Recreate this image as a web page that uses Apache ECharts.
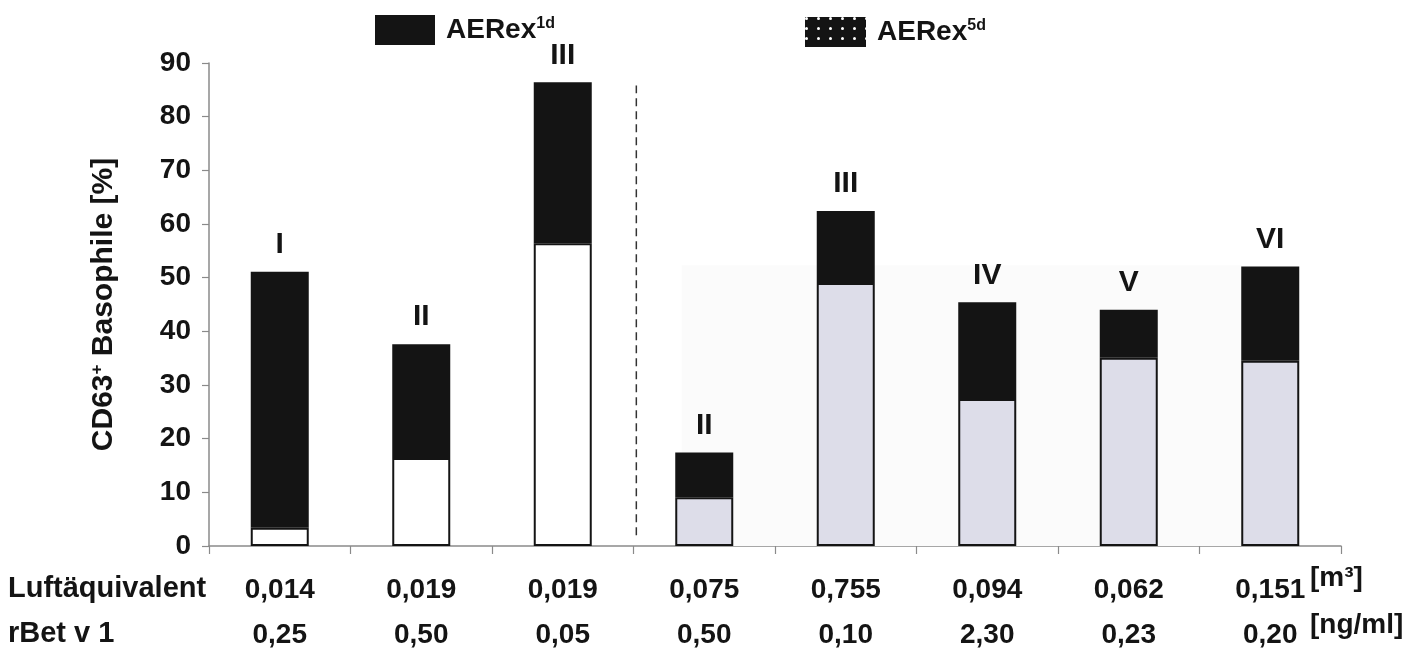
<!DOCTYPE html>
<html>
<head>
<meta charset="utf-8">
<script src="https://cdn.jsdelivr.net/npm/echarts@6/dist/echarts.min.js"></script>
<style>html,body{margin:0;padding:0;background:#fff}#c{width:1422px;height:651px}</style>
</head>
<body>
<div id="c"></div>
<script>
// ---- data ----
const luftaequivalent = ['0,014','0,019','0,019','0,075','0,755','0,094','0,062','0,151'];
const rBetV1 = ['0,25','0,50','0,05','0,50','0,10','2,30','0,23','0,20'];
const groups = ['1d','1d','1d','5d','5d','5d','5d','5d'];
const romans = ['I','II','III','II','III','IV','V','VI'];
const baseValues = [3.4, 16.4, 56.4, 9.1, 49.0, 27.4, 35.1, 34.5];
const totalValues = [51.1, 37.6, 86.4, 17.4, 62.4, 45.4, 44.0, 52.1];
const yTicks = {min: 0, max: 90, interval: 10};

const FONT = '"Liberation Sans", Arial, sans-serif';
const INK = '#141414';
const baseFill = {'1d': '#ffffff', '5d': '#dddde9'};
const topValues = totalValues.map((t, i) => +(t - baseValues[i]).toFixed(2));

const chart = echarts.init(document.getElementById('c'));
const decal5d = {symbol: 'circle', symbolSize: 1, color: '#ffffff', dashArrayX: [3, 9], dashArrayY: [3, 7]};
const legendRich = {
  b: {fontSize: 28, fontWeight: 'bold', color: INK, fontFamily: FONT, padding: [0, 0, 0, 6]},
  s: {fontSize: 16, fontWeight: 'bold', color: INK, verticalAlign: 'top', fontFamily: FONT}
};

chart.setOption({
  backgroundColor: '#fff',
  animation: false,
  textStyle: {fontFamily: FONT},
  grid: {left: 209, right: 81, top: 63, bottom: 105},
  legend: [
    {data: [{name: 'AERex1d', icon: 'rect', itemStyle: {color: INK}}], left: 370, top: 10, itemWidth: 60, itemHeight: 30, itemGap: 0,
     formatter: () => '{b|AERex}{s|1d}', textStyle: {rich: legendRich}},
    {data: [{name: 'AERex5d', icon: 'rect', itemStyle: {color: INK, decal: decal5d}}], left: 800, top: 12, itemWidth: 61, itemHeight: 30, itemGap: 0,
     formatter: () => '{b|AERex}{s|5d}', textStyle: {rich: legendRich}}
  ],
  xAxis: [
    {type: 'category', data: luftaequivalent, boundaryGap: true,
     axisLine: {show: true, lineStyle: {color: '#8a8a8a', width: 1.5}},
     axisTick: {show: true, length: 8, lineStyle: {color: '#8a8a8a', width: 1.2}},
     axisLabel: {margin: 22, interval: 0,
       formatter: (v, i) => '{a|' + v + '}\n{a|' + rBetV1[i] + '}',
       rich: {a: {fontSize: 28, fontWeight: 'bold', color: INK, lineHeight: 45, fontFamily: FONT}}}},
    {type: 'value', min: 0, max: 8, show: false}
  ],
  yAxis: {type: 'value', min: yTicks.min, max: yTicks.max, interval: yTicks.interval,
    name: '{a|CD63}{s|+}{a| Basophile [%]}', nameLocation: 'middle', nameGap: 90,
    nameTextStyle: {rich: {a: {fontSize: 30, fontWeight: 'bold', color: INK, fontFamily: FONT}, s: {fontSize: 17, fontWeight: 'bold', color: INK, verticalAlign: 'top', fontFamily: FONT}}},
    axisLine: {show: true, lineStyle: {color: '#8a8a8a', width: 1.5}},
    axisTick: {show: true, length: 7, lineStyle: {color: '#8a8a8a', width: 1.2}},
    splitLine: {show: false},
    axisLabel: {fontSize: 28, fontWeight: 'bold', color: INK, margin: 18, fontFamily: FONT}},
  series: [
    {name: 'bg', type: 'line', xAxisIndex: 1, data: [], z: 0, silent: true,
     markArea: {silent: true, itemStyle: {color: '#fbfbfb'}, data: [[{coord: [3.34, 0]}, {coord: [7.3, 52.3]}]]}},
    {name: 'sep', type: 'line', xAxisIndex: 1, z: 1, symbol: 'none', silent: true,
     data: [[3.02, 2], [3.02, 85.8]], lineStyle: {color: '#333', width: 1.5, type: [8, 5]}},
    {name: 'base', type: 'bar', stack: 'a', barWidth: 58, z: 3,
     data: baseValues.map((v, i) => ({value: v, itemStyle: {color: baseFill[groups[i]]}})),
     itemStyle: {borderColor: INK, borderWidth: 2}},
    {name: 'top', type: 'bar', stack: 'a', barWidth: 58, z: 3,
     data: topValues,
     itemStyle: {color: INK, borderColor: INK, borderWidth: 2},
     label: {show: true, position: 'top', distance: 12, formatter: p => romans[p.dataIndex],
       fontSize: 30, fontWeight: 'bold', color: INK, fontFamily: FONT}},
    {name: 'AERex1d', type: 'bar', stack: 'a', data: [], itemStyle: {color: INK}},
    {name: 'AERex5d', type: 'bar', stack: 'a', data: [], itemStyle: {color: INK, decal: decal5d}}
  ],
  graphic: [
    {type: 'text', left: 8, top: 574, style: {text: 'Luftäquivalent', font: 'bold 29px ' + FONT, fill: INK}},
    {type: 'text', left: 8, top: 619, style: {text: 'rBet v 1', font: 'bold 29px ' + FONT, fill: INK}},
    {type: 'text', left: 1310, top: 564, style: {text: '[m³]', font: 'bold 28px ' + FONT, fill: INK}},
    {type: 'text', left: 1310, top: 611, style: {text: '[ng/ml]', font: 'bold 28px ' + FONT, fill: INK}}
  ]
});
</script>
</body>
</html>
